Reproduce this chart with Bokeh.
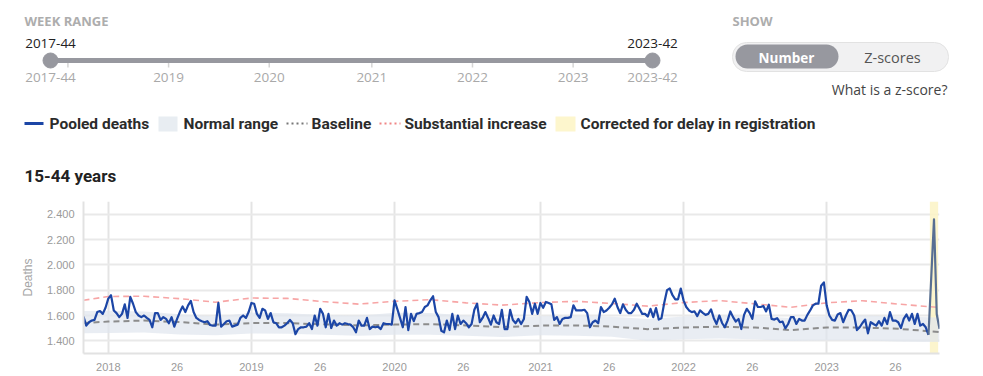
from bokeh.plotting import figure
from bokeh.models import Range1d, FixedTicker
from bokeh.layouts import column
from bokeh.embed import file_html
from bokeh.resources import INLINE
from bokeh.core.properties import value

# ---------------- data ----------------
pooled_deaths = [
    1592, 1520, 1547, 1560, 1565, 1627, 1635, 1613, 1661, 1733,
    1760, 1640, 1619, 1587, 1613, 1688, 1581, 1747, 1693, 1627,
    1600, 1587, 1600, 1581, 1565, 1507, 1619, 1619, 1565, 1587,
    1573, 1539, 1587, 1512, 1573, 1627, 1672, 1627, 1680, 1715,
    1627, 1581, 1565, 1555, 1547, 1555, 1525, 1520, 1520, 1699,
    1512, 1533, 1555, 1560, 1512, 1520, 1528, 1581, 1600, 1581,
    1627, 1699, 1693, 1613, 1581, 1653, 1640, 1573, 1619, 1547,
    1539, 1507, 1507, 1520, 1539, 1565, 1539, 1453, 1493, 1507,
    1507, 1512, 1539, 1493, 1600, 1520, 1653, 1613, 1507, 1613,
    1501, 1560, 1520, 1539, 1528, 1539, 1533, 1528, 1507, 1467,
    1560, 1520, 1520, 1581, 1493, 1512, 1507, 1512, 1493, 1539,
    1533, 1533, 1528, 1720, 1653, 1581, 1507, 1667, 1485, 1613,
    1555, 1613, 1619, 1627, 1667, 1680, 1720, 1752, 1627, 1587,
    1480, 1467, 1560, 1485, 1613, 1493, 1600, 1533, 1560, 1539,
    1507, 1533, 1645, 1693, 1547, 1581, 1627, 1581, 1528, 1600,
    1547, 1533, 1645, 1493, 1493, 1645, 1565, 1539, 1573, 1533,
    1573, 1747, 1707, 1613, 1693, 1613, 1699, 1661, 1707, 1699,
    1688, 1565, 1587, 1533, 1573, 1581, 1581, 1587, 1680, 1640,
    1640, 1640, 1645, 1619, 1507, 1547, 1560, 1539, 1667, 1627,
    1640, 1661, 1688, 1733, 1667, 1619, 1688, 1645, 1619, 1619,
    1645, 1693, 1653, 1613, 1613, 1592, 1653, 1587, 1659, 1568,
    1579, 1701, 1800, 1813, 1760, 1728, 1728, 1813, 1720, 1667,
    1640, 1627, 1632, 1595, 1640, 1621, 1605, 1613, 1648, 1579,
    1533, 1600, 1541, 1507, 1560, 1632, 1587, 1552, 1573, 1493,
    1605, 1653, 1621, 1573, 1712, 1667, 1667, 1675, 1632, 1685,
    1573, 1568, 1579, 1547, 1552, 1499, 1533, 1587, 1587, 1533,
    1573, 1560, 1560, 1605, 1640, 1680, 1693, 1693, 1835, 1861,
    1680, 1600, 1565, 1560, 1608, 1619, 1547, 1600, 1645, 1640,
    1600, 1485, 1507, 1541, 1568, 1459, 1547, 1533, 1520, 1555,
    1520, 1581, 1533, 1627, 1560, 1560, 1547, 1501, 1573, 1608,
    1560, 1613, 1533, 1613, 1520, 1533, 1507, 1448, 1900, 2360,
    1610, 1495,
]
smooth_weeks = [0, 9, 22, 35, 48, 61, 74, 87, 100, 113, 126, 139, 152, 166,
                179, 192, 205, 218, 231, 244, 257, 270, 283, 296, 311]
upper_threshold = [1720, 1750, 1752, 1733, 1705, 1738, 1735, 1710, 1690, 1712, 1725, 1700, 1682,
                   1702, 1712, 1695, 1674, 1702, 1718, 1692, 1665, 1700, 1717, 1690, 1663]
baseline = [1540, 1552, 1560, 1548, 1528, 1540, 1540, 1530, 1522, 1528, 1532, 1522, 1508,
            1520, 1522, 1512, 1492, 1505, 1512, 1505, 1484, 1505, 1505, 1495, 1470]
normal_high = [1635, 1638, 1632, 1610, 1592, 1622, 1618, 1603, 1598, 1622, 1620, 1600, 1575,
               1595, 1598, 1590, 1572, 1592, 1600, 1595, 1580, 1595, 1600, 1592, 1585]
normal_low = [1460, 1462, 1466, 1450, 1445, 1458, 1455, 1448, 1440, 1448, 1448, 1440, 1430,
              1445, 1440, 1432, 1400, 1412, 1418, 1412, 1398, 1405, 1405, 1395, 1390]
corrected_weeks = [308, 309, 310]
year_labels = ["2018", "2019", "2020", "2021", "2022", "2023"]
year_start_week = [9, 61, 113, 166, 218, 270]
mid_year_label = "26"
first_week_label = "2017-44"
last_week_label = "2023-42"
y_ticks = [1400, 1600, 1800, 2000, 2200, 2400]
y_min, y_max = 1300, 2500

weeks = list(range(len(pooled_deaths)))
n_last = weeks[-1]

# ---------------- styles ----------------
W = 983
TOP_H = 193
CH = 183
UI = "Open Sans"
LEG = "Roboto"
AX = "Liberation Sans"
BLUE = "#1c46a6"
SLATE = "#586f92"
GREY_UI = "#97989f"

# ---------------- top panel (controls, legend, title) ----------------
top = figure(width=W, height=TOP_H, x_range=Range1d(0, W), y_range=Range1d(TOP_H, 0),
             output_backend="svg", toolbar_location=None, min_border=0,
             x_axis_type=None, y_axis_type=None)
top.grid.visible = False
top.outline_line_color = None
top.frame_align = False


def T(xs, ys, texts, size, color, font=UI, style="normal", align="left"):
    top.text(x=xs, y=ys, text=texts, text_font=value(font), text_font_size=size,
             text_color=color, text_font_style=style, text_align=align,
             text_baseline="middle")


# week range slider
s_left, s_right, s_y = 50, 652, 60


def sx(w):
    return s_left + w * (s_right - s_left) / n_last


T([24], [20], ["WEEK RANGE"], "13px", "#adadad", style="bold")
tick_x = [sx(w) for w in year_start_week]
top.segment(x0=tick_x, y0=[s_y] * len(tick_x), x1=tick_x, y1=[s_y + 7] * len(tick_x),
            line_color="#d5d5d5", line_width=1.5)
top.segment(x0=[sx(0)], y0=[s_y], x1=[sx(n_last)], y1=[s_y], line_color=GREY_UI,
            line_width=5, line_cap="round")
top.scatter([sx(0), sx(n_last)], [s_y, s_y], size=15, color=GREY_UI)
T([sx(0), sx(n_last)], [43, 43], [first_week_label, last_week_label], "13.5px", "#222",
  align="center")
T([sx(0)] + tick_x[1:] + [sx(n_last)], [77] * (len(tick_x) + 1),
  [first_week_label] + year_labels[1:] + [last_week_label], "13.5px", "#a9a9a9",
  align="center")

# show toggle
T([732], [20], ["SHOW"], "13px", "#adadad", style="bold")
top.quad(left=[732], right=[948], top=[42], bottom=[71],
         fill_color="#f1f1f2", line_color="#e2e2e2", line_width=1, border_radius=14)
top.quad(left=[735], right=[838], top=[44], bottom=[68],
         fill_color=GREY_UI, line_color=None, border_radius=12)
T([786], [57], ["Number"], "13.5px", "white", style="bold", align="center")
T([892], [57], ["Z-scores"], "14.5px", "#555555", align="center")
T([947], [89], ["What is a z-score?"], "14px", "#444444", align="right")

# legend
ly = 123
top.segment(x0=[24], y0=[ly], x1=[43], y1=[ly], line_color=BLUE, line_width=3)
top.quad(left=[158], right=[177], top=[116], bottom=[131],
         fill_color="#e8edf2", line_color=None)
top.segment(x0=[286], y0=[ly], x1=[307], y1=[ly], line_color="#777777",
            line_width=2, line_dash="2 3")
top.segment(x0=[379], y0=[ly], x1=[400], y1=[ly], line_color="#f08585",
            line_width=2, line_dash="2 3")
top.quad(left=[555], right=[575], top=[116], bottom=[131],
         fill_color="#fdf6cd", line_color=None)
T([49, 183, 311, 404, 580], [ly] * 5,
  ["Pooled deaths", "Normal range", "Baseline", "Substantial increase",
   "Corrected for delay in registration"], "15.5px", "#2b2b2b", font=LEG, style="bold")

# chart title
T([24], [175], ["15-44 years"], "17px", "#222222", font=LEG, style="bold")

# ---------------- chart ----------------
p = figure(width=W, height=CH, x_range=Range1d(0, n_last), y_range=Range1d(y_min, y_max),
           output_backend="svg", toolbar_location=None,
           min_border_left=83, min_border_right=44, min_border_top=8, min_border_bottom=23)
p.outline_line_color = None
p.frame_align = False

p.quad(left=[min(corrected_weeks) - 0.5], right=[max(corrected_weeks) + 0.5],
       bottom=[y_min], top=[y_max], fill_color="#fcf3c4", fill_alpha=0.85, line_color=None)
p.varea(x=smooth_weeks, y1=normal_low, y2=normal_high, fill_color="#dfe6ee", fill_alpha=0.7)
p.line(smooth_weeks, baseline, line_color="#8c8c8c", line_width=2, line_dash="6 4")
p.line(smooth_weeks, upper_threshold, line_color="#f7a5a5", line_width=1.6, line_dash="6 4")
cut = min(corrected_weeks) - 1
p.line(weeks[:cut + 1], pooled_deaths[:cut + 1], line_color=BLUE, line_width=2.2,
       line_join="round")
p.line(weeks[cut:], pooled_deaths[cut:], line_color=SLATE, line_width=2.2, line_join="round")

x_ticks = []
x_over = {}
for w, lab in zip(year_start_week, year_labels):
    x_ticks += [w, w + 25]
    x_over[w] = lab
    x_over[w + 25] = mid_year_label
p.xaxis.ticker = FixedTicker(ticks=x_ticks)
p.xaxis.major_label_overrides = x_over
p.yaxis.ticker = FixedTicker(ticks=y_ticks)
p.yaxis.major_label_overrides = {v: f"{v:,}".replace(",", ".") for v in y_ticks}
p.yaxis.axis_label = "Deaths"

for ax in (p.xaxis[0], p.yaxis[0]):
    ax.axis_line_color = "#e2e2e2"
    ax.axis_line_width = 2
    ax.major_tick_line_color = None
    ax.minor_tick_line_color = None
    ax.major_label_text_font = AX
    ax.major_label_text_font_size = "11px"
    ax.major_label_text_color = "#9a9a9a"
p.xaxis.major_label_standoff = 3
p.yaxis.major_label_standoff = 3
p.yaxis.axis_label_text_font = AX
p.yaxis.axis_label_text_font_size = "12px"
p.yaxis.axis_label_text_font_style = "normal"
p.yaxis.axis_label_text_color = "#a5a5a5"
p.yaxis.axis_label_standoff = 9

p.xgrid.ticker = FixedTicker(ticks=year_start_week)
p.xgrid.grid_line_color = "#e4e4e4"
p.xgrid.grid_line_width = 2
p.ygrid.ticker = FixedTicker(ticks=y_ticks)
p.ygrid.grid_line_color = "#e9e9e9"
p.ygrid.grid_line_width = 2

layout = column(top, p, spacing=0)
open("out.html", "w").write(file_html(layout, INLINE))
